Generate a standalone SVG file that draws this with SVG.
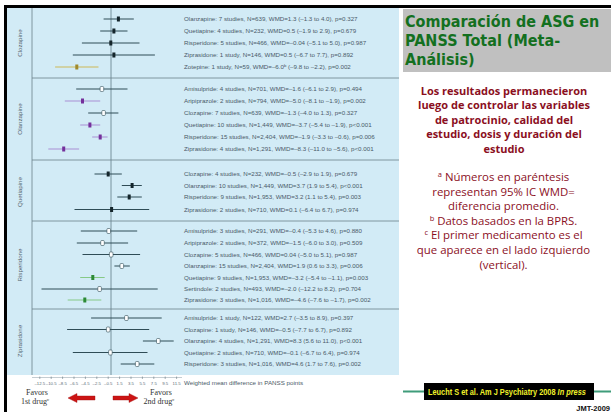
<svg xmlns="http://www.w3.org/2000/svg" width="611" height="412" viewBox="0 0 611 412">
<style>
.lbl{font-family:"Liberation Sans",Arial,sans-serif;font-size:6.2px;fill:#4a5a68}
.grp{font-family:"Liberation Sans",Arial,sans-serif;font-size:6.2px;fill:#55656f}
.tick{font-family:"Liberation Sans",Arial,sans-serif;font-size:4.3px;fill:#5a6a75}
.ci{stroke:#2f4c56;stroke-width:1}
.cp{stroke:#a98fd4;stroke-width:1}
.cg{stroke:#86c986;stroke-width:1}
.cy{stroke:#cdb857;stroke-width:1}
.mk{fill:#14252b}
.mo{fill:#ffffff;stroke:#2f4c56;stroke-width:0.6}
.mp{fill:#74309c}
.mg{fill:#2c8a36}
.my{fill:#a08a2c}
.sep{stroke:#6a808c;stroke-width:0.8}
.ttl{font-family:"DejaVu Sans","Open Sans",sans-serif;font-weight:bold;font-size:16px;fill:#13701f}
.rb{font-family:"Open Sans","DejaVu Sans",sans-serif;font-weight:bold;font-size:11px;fill:#8b0f1e;text-anchor:middle}
.rn{font-family:"Open Sans","DejaVu Sans",sans-serif;font-size:11.4px;fill:#8b0f1e;text-anchor:middle}
.fav{font-family:"Liberation Serif","Times New Roman",serif;font-size:8px;fill:#333333;text-anchor:middle}
.cit{font-family:"Liberation Sans",Arial,sans-serif;font-weight:bold;font-size:9px;fill:#f2f22a}
</style>
<defs>
<rect id="mf" x="-1.5" y="-2.5" width="3" height="5"/>
<rect id="mopen" x="-1.8" y="-2.5" width="3.6" height="5" rx="1"/>
</defs>
<rect x="0" y="0" width="611" height="412" fill="#ffffff"/>
<rect x="4" y="5" width="607" height="3" fill="#000000"/>
<rect x="4" y="5" width="3" height="407" fill="#000000"/>
<rect id="panel" x="7" y="8" width="392" height="367" fill="#d2ebf6"/>

<g id="frame">
<line x1="32" y1="8" x2="32" y2="375" class="sep"/>
<line x1="111" y1="8" x2="111" y2="375" stroke="#5f7b88" stroke-width="0.8"/>
<line x1="32" y1="78" x2="399" y2="78" class="sep"/>
<line x1="32" y1="160" x2="399" y2="160" class="sep"/>
<line x1="32" y1="221" x2="399" y2="221" class="sep"/>
<line x1="32" y1="309" x2="399" y2="309" class="sep"/>
</g>

<g id="group-labels">
<text class="grp" text-anchor="middle" transform="translate(21.5,43) rotate(-90)">Clozapine</text>
<text class="grp" text-anchor="middle" transform="translate(21.5,119) rotate(-90)">Olanzapine</text>
<text class="grp" text-anchor="middle" transform="translate(21.5,192) rotate(-90)">Quetiapine</text>
<text class="grp" text-anchor="middle" transform="translate(21.5,265) rotate(-90)">Risperidone</text>
<text class="grp" text-anchor="middle" transform="translate(21.5,341) rotate(-90)">Ziprasidone</text>
</g>

<g id="g-clozapine">
<g id="cloz-olan"><line x1="103.6" y1="19" x2="133.8" y2="19" class="ci"/><use href="#mf" x="118.4" y="19" class="mk"/><text x="184" y="21" class="lbl">Olanzapine: 7 studies, N=639, WMD=1.3 (–1.3 to 4.0), p=0.327</text></g>
<g id="cloz-quet"><line x1="100.2" y1="31" x2="127.5" y2="31" class="ci"/><use href="#mf" x="113.9" y="31" class="mk"/><text x="184" y="33" class="lbl">Quetiapine: 4 studies, N=232, WMD=0.5 (–1.9 to 2.9), p=0.679</text></g>
<g id="cloz-risp"><line x1="81.9" y1="43" x2="139.5" y2="43" class="ci"/><use href="#mf" x="110.8" y="43" class="mk"/><text x="184" y="45" class="lbl">Risperidone: 5 studies, N=466, WMD=–0.04 (–5.1 to 5.0), p=0.987</text></g>
<g id="cloz-zipr"><line x1="72.8" y1="55" x2="154.9" y2="55" class="ci"/><use href="#mf" x="113.9" y="55" class="mk"/><text x="184" y="57" class="lbl">Ziprasidone: 1 study, N=146, WMD=0.5 (–6.7 to 7.7), p=0.892</text></g>
<g id="cloz-zote"><line x1="55.1" y1="67" x2="98.5" y2="67" class="cy"/><use href="#mf" x="76.8" y="67" class="my"/><text x="184" y="69" class="lbl">Zotepine: 1 study, N=59, WMD=–6.0<tspan font-size="4.2" dy="-1.6">b</tspan><tspan dy="1.6"> (–9.8 to –2.2), p=0.002</tspan></text></g>
</g>

<g id="g-olanzapine">
<g id="olan-amis"><line x1="76.2" y1="89" x2="127.5" y2="89" class="ci"/><use href="#mopen" x="101.9" y="89" class="mo"/><text x="184" y="91" class="lbl">Amisulpride: 4 studies, N=701, WMD=–1.6 (–6.1 to 2.9), p=0.494</text></g>
<g id="olan-arip"><line x1="64.8" y1="101" x2="100.2" y2="101" class="cp"/><use href="#mf" x="82.5" y="101" class="mp"/><text x="184" y="103" class="lbl">Aripiprazole: 2 studies, N=794, WMD=–5.0 (–8.1 to –1.9), p=0.002</text></g>
<g id="olan-cloz"><line x1="88.2" y1="113" x2="118.4" y2="113" class="ci"/><use href="#mopen" x="103.6" y="113" class="mo"/><text x="184" y="115" class="lbl">Clozapine: 7 studies, N=639, WMD=–1.3 (–4.0 to 1.3), p=0.327</text></g>
<g id="olan-quet"><line x1="80.2" y1="125" x2="100.2" y2="125" class="cp"/><use href="#mf" x="89.9" y="125" class="mp"/><text x="184" y="127" class="lbl">Quetiapine: 10 studies, N=1,449, WMD=–3.7 (–5.4 to –1.9), p&lt;0.001</text></g>
<g id="olan-risp"><line x1="92.2" y1="137" x2="107.6" y2="137" class="cp"/><use href="#mf" x="100.2" y="137" class="mp"/><text x="184" y="139" class="lbl">Risperidone: 15 studies, N=2,404, WMD=–1.9 (–3.3 to –0.6), p=0.006</text></g>
<g id="olan-zipr"><line x1="48.3" y1="149" x2="79.1" y2="149" class="cp"/><use href="#mf" x="63.7" y="149" class="mp"/><text x="184" y="151" class="lbl">Ziprasidone: 4 studies, N=1,291, WMD=–8.3 (–11.0 to –5.6), p&lt;0.001</text></g>
</g>

<g id="g-quetiapine">
<g id="quet-cloz"><line x1="94.5" y1="174" x2="121.8" y2="174" class="ci"/><use href="#mf" x="108.2" y="174" class="mk"/><text x="184" y="176" class="lbl">Clozapine: 4 studies, N=232, WMD=–0.5 (–2.9 to 1.9), p=0.679</text></g>
<g id="quet-olan"><line x1="121.8" y1="185.5" x2="141.8" y2="185.5" class="ci"/><use href="#mf" x="132.1" y="185.5" class="mk"/><text x="184" y="187.5" class="lbl">Olanzapine: 10 studies, N=1,449, WMD=3.7 (1.9 to 5.4), p&lt;0.001</text></g>
<g id="quet-risp"><line x1="117.3" y1="197" x2="141.8" y2="197" class="ci"/><use href="#mf" x="129.2" y="197" class="mk"/><text x="184" y="199" class="lbl">Risperidone: 9 studies, N=1,953, WMD=3.2 (1.1 to 5.4), p=0.003</text></g>
<g id="quet-zipr"><line x1="74.5" y1="209.5" x2="149.2" y2="209.5" class="ci"/><use href="#mf" x="111.6" y="209.5" class="mk"/><text x="184" y="211.5" class="lbl">Ziprasidone: 2 studies, N=710, WMD=0.1 (–6.4 to 6.7), p=0.974</text></g>
</g>

<g id="g-risperidone">
<g id="risp-amis"><line x1="80.8" y1="231" x2="137.2" y2="231" class="ci"/><use href="#mopen" x="108.7" y="231" class="mo"/><text x="184" y="233" class="lbl">Amisulpride: 3 studies, N=291, WMD=–0.4 (–5.3 to 4.6), p=0.880</text></g>
<g id="risp-arip"><line x1="76.8" y1="243" x2="128.1" y2="243" class="ci"/><use href="#mopen" x="102.5" y="243" class="mo"/><text x="184" y="245" class="lbl">Aripiprazole: 2 studies, N=372, WMD=–1.5 (–6.0 to 3.0), p=0.509</text></g>
<g id="risp-cloz"><line x1="82.5" y1="254.5" x2="140.1" y2="254.5" class="ci"/><use href="#mopen" x="111.2" y="254.5" class="mo"/><text x="184" y="256.5" class="lbl">Clozapine: 5 studies, N=466, WMD=0.04 (–5.0 to 5.1), p=0.987</text></g>
<g id="risp-olan"><line x1="114.4" y1="266" x2="129.8" y2="266" class="ci"/><use href="#mopen" x="121.8" y="266" class="mo"/><text x="184" y="268" class="lbl">Olanzapine: 15 studies, N=2,404, WMD=1.9 (0.6 to 3.3), p=0.006</text></g>
<g id="risp-quet"><line x1="80.2" y1="277.5" x2="104.7" y2="277.5" class="cg"/><use href="#mf" x="92.8" y="277.5" class="mg"/><text x="184" y="279.5" class="lbl">Quetiapine: 9 studies, N=1,953, WMD=–3.2 (–5.4 to –1.1), p=0.003</text></g>
<g id="risp-sert"><line x1="41.5" y1="289" x2="157.7" y2="289" class="ci"/><use href="#mopen" x="99.6" y="289" class="mo"/><text x="184" y="291" class="lbl">Sertindole: 2 studies, N=493, WMD=–2.0 (–12.2 to 8.2), p=0.704</text></g>
<g id="risp-zipr"><line x1="67.7" y1="300" x2="101.3" y2="300" class="cg"/><use href="#mf" x="84.8" y="300" class="mg"/><text x="184" y="302" class="lbl">Ziprasidone: 3 studies, N=1,016, WMD=–4.6 (–7.6 to –1.7), p=0.002</text></g>
</g>

<g id="g-ziprasidone">
<g id="zipr-amis"><line x1="91.1" y1="318" x2="161.7" y2="318" class="ci"/><use href="#mopen" x="126.4" y="318" class="mo"/><text x="184" y="320" class="lbl">Amisulpride: 1 study, N=122, WMD=2.7 (–3.5 to 8.9), p=0.397</text></g>
<g id="zipr-cloz"><line x1="67.1" y1="329.5" x2="149.2" y2="329.5" class="ci"/><use href="#mopen" x="108.2" y="329.5" class="mo"/><text x="184" y="331.5" class="lbl">Clozapine: 1 study, N=146, WMD=–0.5 (–7.7 to 6.7), p=0.892</text></g>
<g id="zipr-olan"><line x1="142.9" y1="341" x2="173.7" y2="341" class="ci"/><use href="#mopen" x="158.3" y="341" class="mo"/><text x="184" y="343" class="lbl">Olanzapine: 4 studies, N=1,291, WMD=8.3 (5.6 to 11.0), p&lt;0.001</text></g>
<g id="zipr-quet"><line x1="72.8" y1="352.5" x2="147.5" y2="352.5" class="ci"/><use href="#mopen" x="110.4" y="352.5" class="mo"/><text x="184" y="354.5" class="lbl">Quetiapine: 2 studies, N=710, WMD=–0.1 (–6.7 to 6.4), p=0.974</text></g>
<g id="zipr-risp"><line x1="120.7" y1="364" x2="154.3" y2="364" class="ci"/><use href="#mopen" x="137.2" y="364" class="mo"/><text x="184" y="366" class="lbl">Risperidone: 3 studies, N=1,016, WMD=4.6 (1.7 to 7.6), p=0.002</text></g>
</g>

<g id="axis">
<line x1="32" y1="377.5" x2="182" y2="377.5" stroke="#8a9aa4" stroke-width="0.5"/>
<g stroke="#6a7a84" stroke-width="0.6">
<line x1="39.8" y1="376.5" x2="39.8" y2="379"/><line x1="51.2" y1="376.5" x2="51.2" y2="379"/><line x1="62.6" y1="376.5" x2="62.6" y2="379"/><line x1="74" y1="376.5" x2="74" y2="379"/><line x1="85.4" y1="376.5" x2="85.4" y2="379"/><line x1="96.8" y1="376.5" x2="96.8" y2="379"/><line x1="108.2" y1="376.5" x2="108.2" y2="379"/><line x1="119.6" y1="376.5" x2="119.6" y2="379"/><line x1="131" y1="376.5" x2="131" y2="379"/><line x1="142.4" y1="376.5" x2="142.4" y2="379"/><line x1="153.8" y1="376.5" x2="153.8" y2="379"/><line x1="165.2" y1="376.5" x2="165.2" y2="379"/><line x1="176.6" y1="376.5" x2="176.6" y2="379"/>
</g>
<g class="tick" text-anchor="middle">
<text x="39.8" y="384.5">–12.5</text><text x="51.2" y="384.5">–10.5</text><text x="62.6" y="384.5">–8.5</text><text x="74" y="384.5">–6.5</text><text x="85.4" y="384.5">–4.5</text><text x="96.8" y="384.5">–2.5</text><text x="108.2" y="384.5">–0.5</text><text x="119.6" y="384.5">1.5</text><text x="131" y="384.5">3.5</text><text x="142.4" y="384.5">5.5</text><text x="153.8" y="384.5">7.5</text><text x="165.2" y="384.5">9.5</text><text x="176.6" y="384.5">11.5</text>
</g>
<text x="184" y="385" class="lbl">Weighted mean difference in PANSS points</text>
</g>

<g id="favors">
<text x="37" y="395" class="fav">Favors</text>
<text x="35" y="404" class="fav">1st drug<tspan font-size="5" dy="-2.8">c</tspan></text>
<polygon points="68,398 77,393.5 77,396 95,396 95,400 77,400 77,402.5" fill="#cc1414" stroke="#a00c0c" stroke-width="0.4"/>
<polygon points="138,398 129,393.5 129,396 113,396 113,400 129,400 129,402.5" fill="#cc1414" stroke="#a00c0c" stroke-width="0.4"/>
<text x="161" y="395" class="fav">Favors</text>
<text x="159" y="404" class="fav">2nd drug<tspan font-size="5" dy="-2.8">c</tspan></text>
</g>

<g id="title">
<rect x="403" y="9" width="208" height="63" fill="#c0c0c0"/>
<g transform="scale(0.9,1)">
<text x="450" y="27.5" class="ttl">Comparación de ASG en</text>
<text x="450" y="46.5" class="ttl">PANSS Total (Meta-</text>
<text x="450" y="65.5" class="ttl">Análisis)</text>
</g>
</g>

<g id="summary">
<text x="504" y="94.5" class="rb">Los resultados permanecieron</text>
<text x="504" y="109" class="rb">luego de controlar las variables</text>
<text x="504" y="123.5" class="rb">de patrocinio, calidad del</text>
<text x="504" y="138" class="rb">estudio, dosis y duración del</text>
<text x="504" y="152.5" class="rb">estudio</text>
</g>

<g id="footnotes">
<text x="503.5" y="181" class="rn"><tspan font-size="7.5" dy="-4">a</tspan><tspan dy="4"> Números en paréntesis</tspan></text>
<text x="503.5" y="196" class="rn">representan 95% IC WMD=</text>
<text x="503.5" y="210" class="rn">diferencia promedio.</text>
<text x="503.5" y="224.5" class="rn"><tspan font-size="7.5" dy="-4">b</tspan><tspan dy="4"> Datos basados en la BPRS.</tspan></text>
<text x="503.5" y="239" class="rn"><tspan font-size="7.5" dy="-4">c</tspan><tspan dy="4"> El primer medicamento es el</tspan></text>
<text x="503.5" y="253.5" class="rn">que aparece en el lado izquierdo</text>
<text x="503.5" y="268.5" class="rn">(vertical).</text>
</g>

<g id="citation">
<line x1="403" y1="391.5" x2="611" y2="391.5" stroke="#3f9c7a" stroke-width="2"/>
<rect x="424" y="383" width="170" height="17" fill="#000000"/>
<g transform="translate(428,395) scale(0.82,1)">
<text x="0" y="0" class="cit">Leucht S et al. Am J Psychiatry 2008 <tspan font-style="italic">In press</tspan></text>
</g>
<text x="610" y="410.5" font-family="'Liberation Sans',Arial,sans-serif" font-weight="bold" font-size="7.5" fill="#111111" text-anchor="end">JMT-2009</text>
</g>
</svg>
